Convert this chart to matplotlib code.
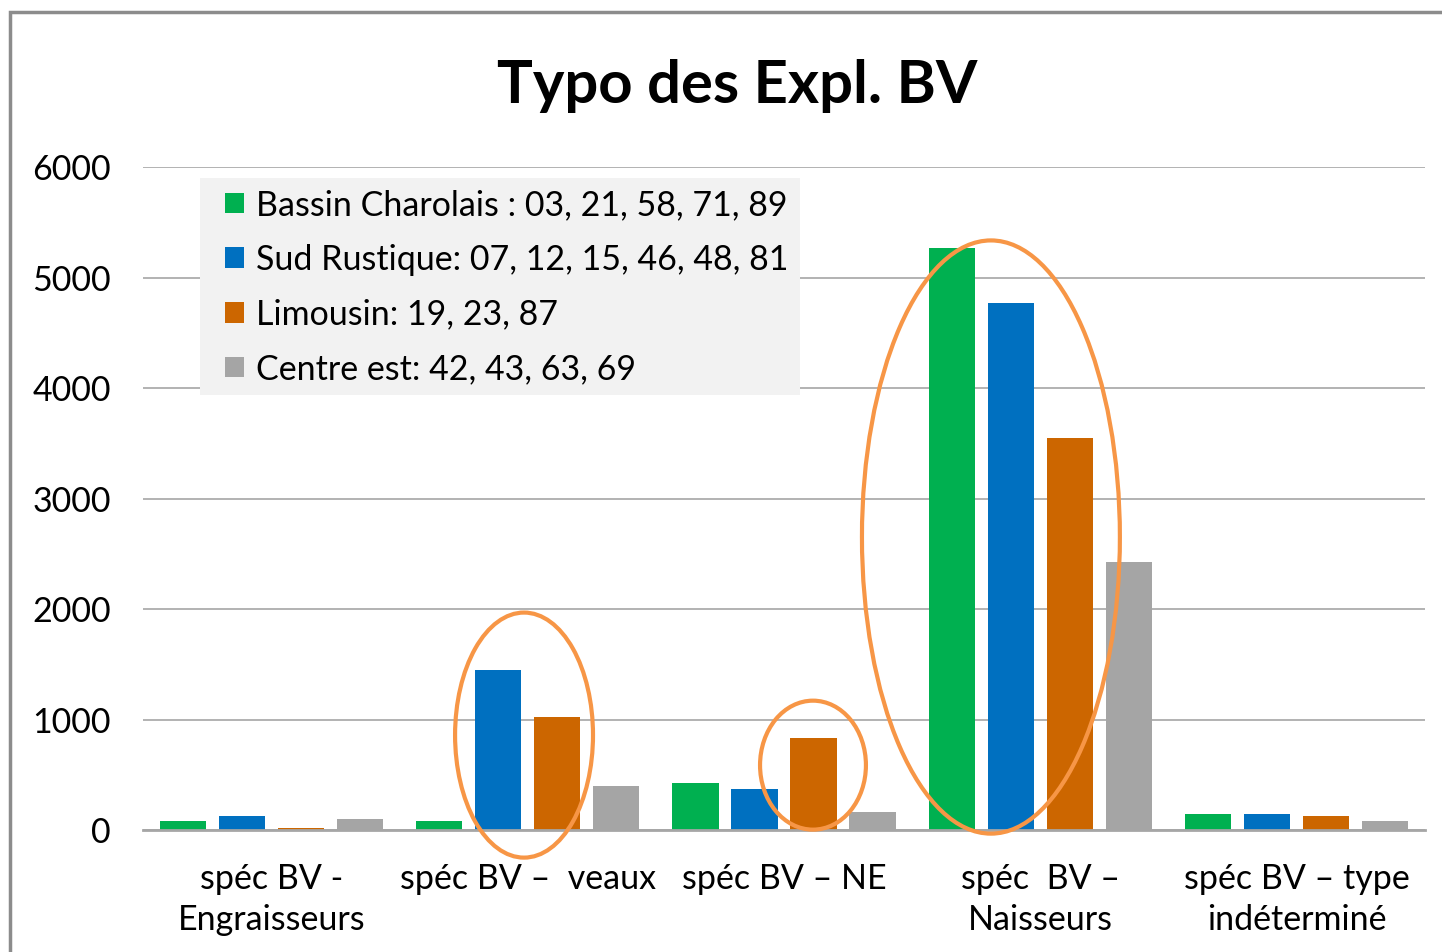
import numpy as np
import matplotlib.pyplot as plt
from matplotlib.patches import Ellipse, Rectangle

plt.rcParams['font.family'] = ['Lato', 'DejaVu Sans']

categories = ["spéc BV -\nEngraisseurs", "spéc BV –  veaux", "spéc BV – NE",
              "spéc  BV –\nNaisseurs", "spéc BV – type\nindéterminé"]
series = ["Bassin Charolais : 03, 21, 58, 71, 89",
          "Sud Rustique: 07, 12, 15, 46, 48, 81",
          "Limousin: 19, 23, 87",
          "Centre est: 42, 43, 63, 69"]
charolais = [80, 80, 430, 5270, 145]
rustique = [130, 1450, 370, 4770, 145]
limousin = [20, 1020, 830, 3550, 130]
centre_est = [100, 400, 160, 2430, 80]
colors = ["#00B050", "#0070C0", "#CC6600", "#A5A5A5"]

# highlight ellipses: (x centre, y centre, width, height) in data units
highlights = [(0.986, 860, 0.538, 2217),
              (2.113, 588, 0.413, 1167),
              (2.807, 2652, 1.006, 5367)]

fig = plt.figure(figsize=(14.42, 9.52), dpi=100)
ax = fig.add_axes([0.0992, 0.128, 0.889, 0.6966])

x = np.arange(len(categories))
pitch, width = 0.23, 0.18
handles = []
for i, (vals, col) in enumerate(zip([charolais, rustique, limousin, centre_est], colors)):
    b = ax.bar(x + (i - 1.5) * pitch, vals, width, color=col, zorder=3)
    handles.append(b)

for cx, cy, w, h in highlights:
    ax.add_patch(Ellipse((cx, cy), w, h, fill=False, edgecolor="#F79646",
                         lw=3, zorder=5, clip_on=False))

ax.set_xlim(-0.5, len(categories) - 0.5)
ax.set_ylim(0, 6000)
ax.set_yticks(range(0, 6001, 1000))
ax.set_xticks(x)
ax.set_xticklabels(categories, fontsize=24.5, linespacing=1.32)
ax.tick_params(axis='y', labelsize=24.5, length=0, pad=23)
ax.tick_params(axis='x', length=0, pad=24)
ax.grid(axis='y', color="#A6A6A6", lw=1.2, zorder=0)
for s in ["top", "right", "left"]:
    ax.spines[s].set_visible(False)
ax.spines["bottom"].set_color("#A6A6A6")
ax.spines["bottom"].set_linewidth(2)
ax.spines["bottom"].set_zorder(4)

# legend background box
ax.add_patch(Rectangle((0.0445, 0.656), 0.468, 0.3274, transform=ax.transAxes,
                       facecolor="#F2F2F2", edgecolor="none", zorder=6))
leg = ax.legend(handles, series, loc="upper left", bbox_to_anchor=(0.064, 0.967),
                borderaxespad=0, borderpad=0, fontsize=24.5, frameon=False,
                handlelength=0.55, handleheight=0.55, handletextpad=0.35,
                labelspacing=0.67)
leg.set_zorder(7)

fig.text(0.511, 0.91, "Typo des Expl. BV", fontsize=43, fontweight="bold",
         ha="center", va="center")

fig.add_artist(Rectangle((0.0069, -0.05), 1.1, 1.0374, transform=fig.transFigure,
                         fill=False, edgecolor="#8C8C8C", lw=2.5))

fig.savefig("out.png", dpi=100)
